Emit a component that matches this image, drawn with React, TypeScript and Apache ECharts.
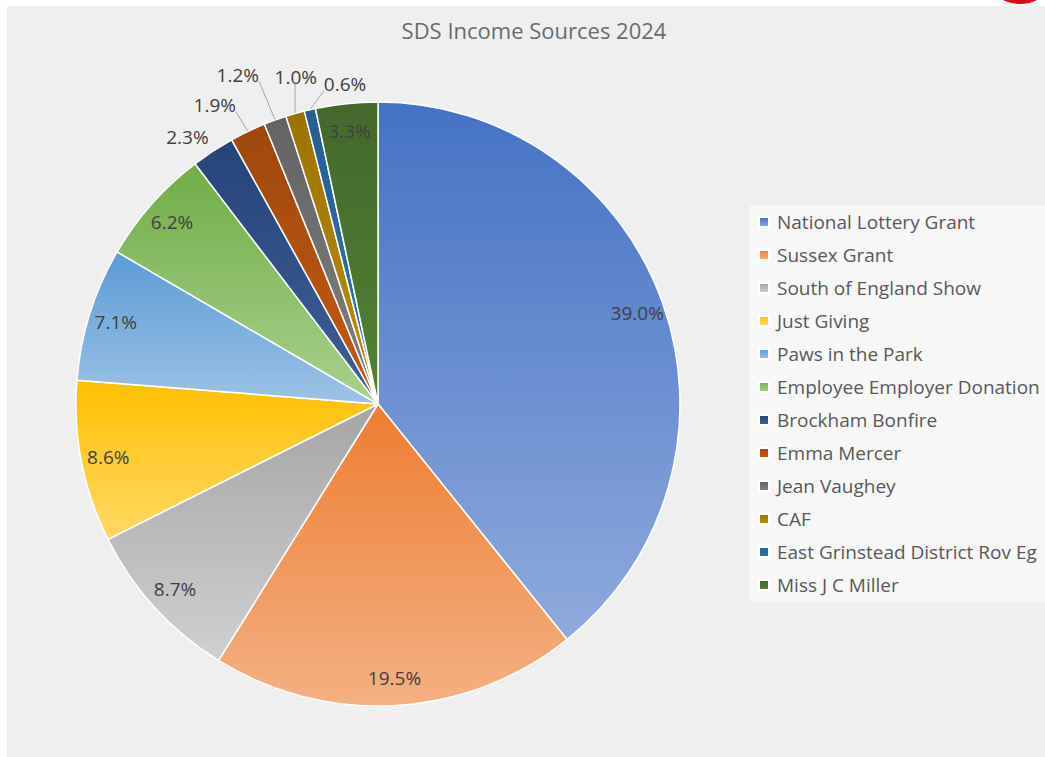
import React, { useEffect, useRef } from "react";
import * as echarts from "echarts";

const categories = [
  "National Lottery Grant",
  "Sussex Grant",
  "South of England Show",
  "Just Giving",
  "Paws in the Park",
  "Employee Employer Donation",
  "Brockham Bonfire",
  "Emma Mercer",
  "Jean Vaughey",
  "CAF",
  "East Grinstead District Rov Eg",
  "Miss J C Miller",
];
const shares = [39.0, 19.5, 8.7, 8.6, 7.1, 6.2, 2.3, 1.9, 1.2, 1.0, 0.6, 3.3];
const outsideLabelIdx = [6, 7, 8, 9, 10];
const titleText = "SDS Income Sources 2024";

const colorTop = [
  "#4472C4", "#ED7D31", "#A5A5A5", "#FFC000", "#5B9BD5", "#70AD47",
  "#264478", "#9E480E", "#636363", "#997300", "#255E91", "#43682B",
];
const colorBottom = [
  "#8FAADC", "#F4B183", "#D0D0D0", "#FFD966", "#9DC3E6", "#A9D18E",
  "#3F5F9A", "#C55A11", "#808080", "#BF9000", "#2E75B6", "#548235",
];

// layout nudges (px) of the small outside labels, relative to a point at 1.1 R on the slice's mid angle
const labelNudge: Record<number, [number, number]> = {
  6: [-9, 11],
  7: [-20, 1],
  8: [-27, -17],
  9: [9, -8],
  10: [42, 4],
};

const R = 302;
const CENTER = [371, 398];
const FONT = "'Open Sans', 'Noto Sans', sans-serif";

export default function App() {
  const ref = useRef<HTMLDivElement>(null);
  useEffect(() => {
    const chart = echarts.init(ref.current!, null, { renderer: "svg" });
    const fmt = (p: any) => Number(p.value).toFixed(1) + "%";
    const total = shares.reduce((a, b) => a + b, 0);
    const midAngle = (i: number) => {
      let cum = 0;
      for (let k = 0; k < i; k++) cum += shares[k];
      return ((cum + shares[i] / 2) / total) * Math.PI * 2;
    };
    const grad = (i: number) =>
      new echarts.graphic.LinearGradient(0, 0, 0, 1, [
        { offset: 0, color: colorTop[i] },
        { offset: 1, color: colorBottom[i] },
      ]);
    const mainData = categories.map((name, i) => {
      const out = outsideLabelIdx.includes(i);
      return {
        name,
        value: shares[i],
        itemStyle: { color: grad(i) },
        label: { show: out },
        labelLine: { show: out && i !== 6 },
      };
    });
    const labelData = categories.map((name, i) => ({
      name,
      value: shares[i],
      label: { show: !outsideLabelIdx.includes(i) },
    }));
    chart.setOption({
      animation: false,
      backgroundColor: "#efefef",
      title: {
        text: titleText,
        left: 522,
        textAlign: "center",
        top: 8,
        textStyle: { fontFamily: FONT, fontSize: 22, fontWeight: "normal", color: "#6b6b6b" },
      },
      legend: {
        orient: "vertical",
        left: 743,
        top: 199,
        padding: [6, 60, 6, 8],
        backgroundColor: "#f7f7f7",
        icon: "rect",
        itemWidth: 10,
        itemHeight: 10,
        itemGap: 11,
        data: categories,
        textStyle: {
          fontFamily: FONT,
          fontSize: 19,
          color: "#595959",
          lineHeight: 22,
          padding: [0, 0, 0, 3],
        },
      },
      series: [
        {
          type: "pie",
          name: "main",
          radius: R,
          center: CENTER,
          startAngle: 90,
          clockwise: true,
          avoidLabelOverlap: false,
          emphasis: { disabled: true },
          itemStyle: { borderColor: "#ffffff", borderWidth: 1.5 },
          label: {
            position: "outside",
            formatter: fmt,
            fontFamily: FONT,
            fontSize: 19,
            color: "#404040",
          },
          labelLine: {
            length: 20,
            length2: 6,
            lineStyle: { color: "#a6a6a6", width: 1 },
          },
          labelLayout: (params: any) => {
            const i = params.dataIndex;
            const nudge = labelNudge[i];
            if (!nudge) return {};
            const a = midAngle(i);
            const d = R * 1.1;
            const lx = CENTER[0] + d * Math.sin(a) + nudge[0];
            const ly = CENTER[1] - d * Math.cos(a) + nudge[1];
            const w = params.labelRect.width;
            const h = params.labelRect.height;
            const ex = CENTER[0] + R * Math.sin(a);
            const ey = CENTER[1] - R * Math.cos(a);
            const px = Math.min(Math.max(ex, lx - w / 2), lx + w / 2);
            const py = Math.min(Math.max(ey, ly - h / 2 + 3), ly + h / 2 - 3);
            return {
              x: lx,
              y: ly,
              align: "center",
              verticalAlign: "middle",
              labelLinePoints: [
                [ex, ey],
                [(ex + px) / 2, (ey + py) / 2],
                [px, py],
              ],
            };
          },
          data: mainData,
        },
        {
          type: "pie",
          name: "labels",
          radius: [0, R * 1.8],
          center: CENTER,
          startAngle: 90,
          clockwise: true,
          silent: true,
          emphasis: { disabled: true },
          itemStyle: { color: "rgba(0,0,0,0)", borderWidth: 0 },
          label: {
            position: "inside",
            formatter: fmt,
            fontFamily: FONT,
            fontSize: 19,
            color: "#404040",
          },
          labelLine: { show: false },
          data: labelData,
        },
      ],
    });
    return () => chart.dispose();
  }, []);
  return (
    <div style={{ position: "fixed", left: 0, top: 0, width: 1045, height: 757, background: "#ffffff", overflow: "hidden" }}>
      <div style={{ position: "absolute", left: 1000, top: -14, width: 40, height: 18, borderRadius: "50%", background: "#e3061b" }} />
      <div ref={ref} style={{ position: "absolute", left: 7, top: 6, width: 1038, height: 751 }} />
    </div>
  );
}
